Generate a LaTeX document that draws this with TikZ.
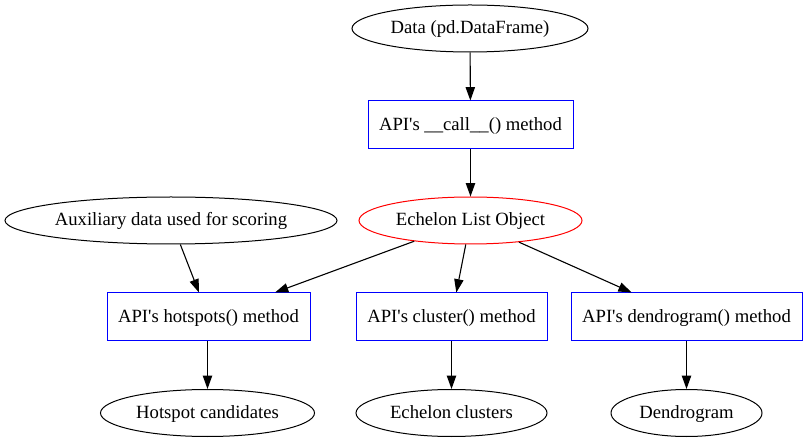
\documentclass[tikz,border=0pt]{standalone}
\usepackage{fontspec}
\setmainfont{Liberation Serif}
\usetikzlibrary{shapes.geometric,arrows.meta}
\newcommand{\apos}{\textquotesingle}
\begin{document}
\begin{tikzpicture}[x=1pt,y=-1pt,
  every node/.style={font=\fontsize{18.67}{22}\selectfont, inner sep=0pt, line width=1pt, text height=14.3pt, text depth=3.7pt},
  ell/.style={draw=black, ellipse, minimum height=47pt},
  box/.style={draw=blue, rectangle, minimum height=48pt},
  conn/.style={draw, line width=1.1pt, -{Triangle[length=13.3pt,width=9.3pt]}}]
\useasboundingbox (0,0) rectangle (808,443);
\node[ell, minimum width=236pt] (data) at (470,28.5) {Data (pd.DataFrame)};
\node[box, minimum width=205pt] (call) at (470.5,125) {API\apos s \_\_call\_\_() method};
\node[ell, draw=red, minimum width=223pt] (elo) at (470.5,220.5) {Echelon List Object};
\node[ell, minimum width=332pt] (aux) at (171,220.5) {Auxiliary data used for scoring};
\node[box, minimum width=203pt] (hot) at (208.5,317) {API\apos s hotspots() method};
\node[box, minimum width=191pt] (clu) at (451.5,317) {API\apos s cluster() method};
\node[box, minimum width=231pt] (den) at (686.5,317) {API\apos s dendrogram() method};
\node[ell, minimum width=214pt] (hc) at (207.5,413) {Hotspot candidates};
\node[ell, minimum width=191pt] (ec) at (451.5,413) {Echelon clusters};
\node[ell, minimum width=151pt] (dg) at (686.5,413) {Dendrogram};
\draw[conn] (data) -- (call);
\draw[conn] (call) -- (elo);
\draw[conn] (aux) -- (hot);
\draw[conn] (elo) -- (hot);
\draw[conn] (elo) -- (clu);
\draw[conn] (elo) -- (den);
\draw[conn] (hot.south -| hc.north) -- (hc);
\draw[conn] (clu) -- (ec);
\draw[conn] (den) -- (dg);
\end{tikzpicture}
\end{document}
